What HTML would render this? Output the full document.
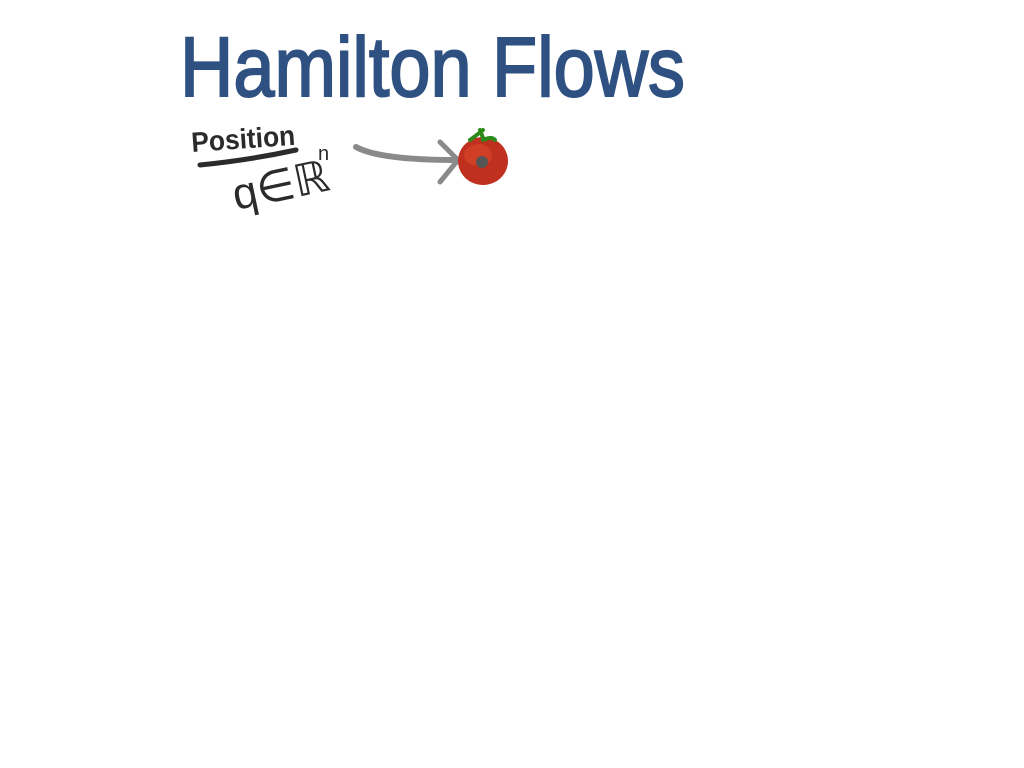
<!DOCTYPE html>
<html><head><meta charset="utf-8"><style>
html,body{margin:0;padding:0;background:#fff;width:1024px;height:768px;overflow:hidden}
</style></head><body>
<svg width="1024" height="768" viewBox="0 0 1024 768" xmlns="http://www.w3.org/2000/svg">
  <text x="180" y="96" font-family="Liberation Sans, sans-serif" font-size="84" fill="#2e5182" stroke="#2e5182" stroke-width="2" textLength="505" lengthAdjust="spacingAndGlyphs">Hamilton Flows</text>
  <text x="192" y="152" font-family="Liberation Sans, sans-serif" font-weight="bold" font-size="28" fill="#2b2b2b" textLength="104" lengthAdjust="spacingAndGlyphs" transform="rotate(-4 192 152)">Position</text>
  <path d="M200 165 Q250 160 296 150" stroke="#2b2b2b" stroke-width="5" fill="none" stroke-linecap="round"/>
  <text x="236" y="210" font-family="Liberation Sans, sans-serif" font-size="44" fill="#2b2b2b" transform="rotate(-12 236 210)">q∈ℝ</text>
  <text x="318" y="160" font-family="Liberation Sans, sans-serif" font-size="20" fill="#2b2b2b">n</text>
  <path d="M356 147 Q380 160 455 160" stroke="#8a8a8a" stroke-width="6" fill="none" stroke-linecap="round"/>
  <path d="M440 142 L458 160 L440 182" stroke="#8a8a8a" stroke-width="5" fill="none" stroke-linecap="round"/>
  <g>
    <ellipse cx="483" cy="161" rx="25" ry="24" fill="#c0301e"/>
    <ellipse cx="478" cy="155" rx="14" ry="11" fill="#d8472a" opacity="0.6"/>
    <circle cx="482" cy="162" r="6" fill="#555"/>
    <path d="M470 140 Q478 134 483 130 M483 138 L480 130 M483 140 Q492 136 495 140" stroke="#2a8a1a" stroke-width="4" fill="none" stroke-linecap="round"/>
  </g>
</svg>
</body></html>
